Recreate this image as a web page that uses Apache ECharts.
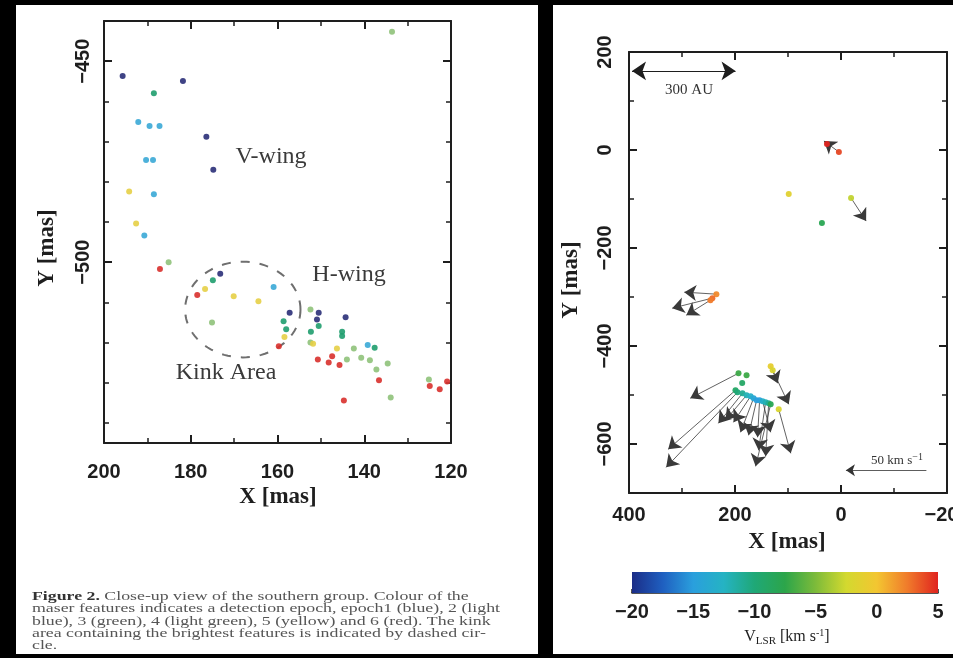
<!DOCTYPE html>
<html><head><meta charset="utf-8">
<script src="https://cdn.jsdelivr.net/npm/echarts@6/dist/echarts.min.js"></script>
<style>html,body{margin:0;padding:0;background:#000;}#c{width:953px;height:658px;}</style>
</head><body><div id="c"></div>
<script>
// ---------- Left panel: maser features by detection epoch (X, Y in mas) ----------
const epoch1 = [[195.7,-453.7],[181.8,-454.9],[176.4,-468.8],[174.8,-477.0],[173.2,-502.9],[157.2,-512.6],[150.5,-512.6],[144.3,-513.7],[150.9,-514.3]];
const epoch2 = [[192.1,-465.1],[189.5,-466.1],[187.2,-466.1],[190.3,-474.6],[188.7,-474.6],[188.5,-483.1],[190.7,-493.4],[160.9,-506.2],[139.2,-520.6]];
const epoch3 = [[188.5,-458.0],[174.9,-504.5],[158.6,-514.7],[158.0,-516.7],[150.5,-515.9],[152.3,-517.3],[145.1,-517.3],[145.1,-518.4],[137.6,-521.3]];
const epoch4 = [[185.1,-500.0],[133.6,-442.7],[152.4,-511.8],[152.4,-520.0],[142.4,-521.5],[144.0,-524.2],[140.7,-523.8],[138.7,-524.4],[137.2,-526.7],[134.6,-525.2],[125.1,-529.2],[175.1,-515.0],[133.9,-533.7]];
const epoch5 = [[194.2,-482.4],[192.6,-490.4],[176.7,-506.7],[170.1,-508.5],[164.4,-509.7],[158.4,-518.6],[146.3,-521.5],[151.8,-520.3]];
const epoch6 = [[187.1,-501.7],[178.5,-508.2],[159.7,-520.9],[150.7,-524.2],[147.4,-523.4],[148.2,-525.0],[145.7,-525.6],[136.6,-529.4],[144.7,-534.4],[124.9,-530.8],[122.6,-531.6],[120.9,-529.7]];
const epochNames = ['epoch 1','epoch 2','epoch 3','epoch 4','epoch 5','epoch 6'];
const kinkCircle = [168.0,-511.8,13.3,11.9]; // centre X, centre Y, radius X, radius Y (mas)
const leftXTicks = [120,200,20];
const leftYMajor = [-500,-450];
const leftYMinor = [-540,-530,-520,-510,-500,-490,-480,-470,-460,-450];

// ---------- Right panel: proper-motion vectors (X, Y in mas), VLSR in km/s ----------
const vecBase = [[4,-4],[-19,-98],[235.1,-294.2],[242.7,-302.3],[246.4,-306.4],
  [193.4,-455.6],[199.1,-490.3],[195.3,-494.4],[185.8,-496.4],[178.2,-500.5],[170.6,-502.6],[164.9,-506.6],
  [159.2,-510.7],[153.6,-510.7],[147.9,-512.8],[142.2,-514.8],[136.5,-516.9],[132.7,-518.9],[117.5,-529.1],
  [132.7,-441.3],[128.9,-449.4]];
const vecTip = [[32.2,18.4],[-47.4,-145],[295.7,-290.1],[318.5,-322.8],[291.9,-337.1],
  [284.4,-506.6],[326.1,-610.8],[329.9,-647.6],[231.3,-557.7],[218,-551.6],[202.8,-555.7],[189.6,-576.1],
  [174.4,-582.2],[157.4,-586.3],[132.7,-576.1],[155.5,-612.9],[142.2,-625.1],[161.1,-645.6],[94.8,-619],
  [119.4,-476],[98.6,-518.9]];
const vecVlsr = [4,-3,2,3,2.5,-7,-9,-10,-11,-12,-13,-14,-15,-15,-13,-12,-11,-8,-2,-1,-2];
const spotXY = [[26.5,12.3],[98.6,-89.9],[36,-149],[178.2,-459.7],[186.4,-475.4]];
const spotVlsr = [5,-1.5,-8,-7,-9];
const scaleAU = [[394.3,161.4],[199,161.4]];
const scaleVel = [[-161.1,-653.7],[-9.3,-653.7]];
const rightXTicks = [-200,400,200];
const rightYMajor = [-600,-400,-200,0,200];
const rightYRange = [-700,200,100];
const cbarRange = [-20,5,5];
const jet = ['#1b2d87','#1f5fc0','#2a9fdd','#25b3c3','#1fa877','#2ca54a','#7dbb3a','#d3d92f','#f3c631','#f07b2b','#e0241f'];
const epochColors = ['#2a2f78','#3aa9d6','#1f9d6e','#8fc27a','#e6cf46','#d8302c'];

const caption = [
  'Figure 2. Close-up view of the southern group. Colour of the',
  'maser features indicates a detection epoch, epoch1 (blue), 2 (light',
  'blue), 3 (green), 4 (light green), 5 (yellow) and 6 (red). The kink',
  'area containing the brightest features is indicated by dashed cir-',
  'cle.'
];

const minus = v => String(v).replace('-', '\u2212');
const numFont = {fontFamily:'Liberation Sans', fontSize:20, fontWeight:'bold', color:'#1e1e1e'};
const axLine = {show:true, onZero:false, lineStyle:{color:'#1e1e1e', width:2}};

function xAx(grid, range, pos, showLbl, margin){
  return {type:'value', gridIndex:grid, position:pos, min:range[0], max:range[1], interval:range[2], inverse:true,
    axisLine:axLine, splitLine:{show:false},
    axisTick:{show:true, inside:true, length:8, lineStyle:{color:'#1e1e1e', width:2}},
    minorTick:{show:true, splitNumber:2, length:5, lineStyle:{color:'#1e1e1e', width:1.5}},
    minorSplitLine:{show:false},
    axisLabel:Object.assign({show:showLbl, margin:margin, formatter:minus, showMinLabel:true, showMaxLabel:true, hideOverlap:false}, numFont)};
}
function yMajor(grid, mn, mx, vals, pos, showLbl, margin){
  return {type:'value', gridIndex:grid, position:pos, min:mn, max:mx,
    axisLine:axLine, splitLine:{show:false},
    axisTick:{show:true, inside:true, length:8, customValues:vals, lineStyle:{color:'#1e1e1e', width:2}},
    axisLabel:Object.assign({show:showLbl, rotate:90, margin:margin, customValues:vals, formatter:minus, showMinLabel:true, showMaxLabel:true}, numFont)};
}
function yMinor(grid, mn, mx, vals, pos){
  return {type:'value', gridIndex:grid, position:pos, min:mn, max:mx,
    axisLine:{show:false, onZero:false}, splitLine:{show:false},
    axisTick:{show:true, inside:true, length:5, customValues:vals, lineStyle:{color:'#1e1e1e', width:1.5}},
    axisLabel:{show:false}};
}
const rightYMinor = [];
for (let v = rightYRange[0]; v <= rightYRange[1]; v += rightYRange[2]) rightYMinor.push(v);

// caption width fitting
const capFont = 12;
const mctx = document.createElement('canvas').getContext('2d');
mctx.font = capFont + 'px "Liberation Serif"';
const capTarget = 468;
const mw = mctx.measureText(caption[1]).width;
const capScale = mw ? capTarget / mw : 1.3;

const graphics = [
  {type:'rect', z:-100, shape:{x:16, y:5, width:522, height:649}, style:{fill:'#fff'}},
  {type:'rect', z:-100, shape:{x:553, y:5, width:400, height:649}, style:{fill:'#fff'}},
  {type:'text', x:271, y:157, style:{text:'V-wing', font:'24px "Liberation Serif"', fill:'#3a3a3a', align:'center', verticalAlign:'middle'}},
  {type:'text', x:349, y:275, style:{text:'H-wing', font:'24px "Liberation Serif"', fill:'#3a3a3a', align:'center', verticalAlign:'middle'}},
  {type:'text', x:226, y:373, style:{text:'Kink Area', font:'24px "Liberation Serif"', fill:'#3a3a3a', align:'center', verticalAlign:'middle'}},
  {type:'text', x:278, y:497, style:{text:'X [mas]', font:'bold 23px "Liberation Serif"', fill:'#1e1e1e', align:'center', verticalAlign:'middle'}},
  {type:'text', x:47, y:248, rotation:Math.PI/2, style:{text:'Y [mas]', font:'bold 23px "Liberation Serif"', fill:'#1e1e1e', align:'center', verticalAlign:'middle'}},
  {type:'text', x:787, y:542, style:{text:'X [mas]', font:'bold 23px "Liberation Serif"', fill:'#1e1e1e', align:'center', verticalAlign:'middle'}},
  {type:'text', x:571, y:280, rotation:Math.PI/2, style:{text:'Y [mas]', font:'bold 23px "Liberation Serif"', fill:'#1e1e1e', align:'center', verticalAlign:'middle'}},
  {type:'text', x:689, y:90, style:{text:'300 AU', font:'15px "Liberation Serif"', fill:'#333', align:'center', verticalAlign:'middle'}},
  {type:'text', x:897, y:461, style:{text:'50 km s{s|\u22121}', rich:{s:{fontSize:10, verticalAlign:'top', padding:[0,0,8,0], fontFamily:'Liberation Serif', fill:'#333'}}, font:'13px "Liberation Serif"', fill:'#333', align:'center', verticalAlign:'middle'}},
  {type:'text', x:787, y:637, style:{text:'V{sub|LSR} [km s{sup|-1}]', font:'16px "Liberation Serif"', fill:'#1e1e1e', align:'center', verticalAlign:'middle',
     rich:{sub:{fontSize:11, fontFamily:'Liberation Serif', padding:[8,0,0,0]}, sup:{fontSize:10, fontFamily:'Liberation Serif', padding:[0,0,8,0]}}}}
];
caption.forEach((line, i) => {
  const isFirst = i === 0;
  graphics.push({type:'text', x:32, y:597 + i*12.3, scaleX: capScale,
    style:{text: isFirst ? '{b|Figure 2.}' + line.slice(9) : line,
      font:capFont + 'px "Liberation Serif"', fill:'#555', verticalAlign:'middle', align:'left',
      rich:{b:{fontWeight:'bold', fontFamily:'Liberation Serif', fontSize:capFont, fill:'#333'}}}});
});

const epochs = [epoch1, epoch2, epoch3, epoch4, epoch5, epoch6];
const series = epochs.map((d, i) => ({type:'scatter', name:epochNames[i], xAxisIndex:0, yAxisIndex:0, data:d,
  symbol:'circle', symbolSize:6, itemStyle:{color:epochColors[i], opacity:0.9}, z:5}));

series.push({type:'custom', xAxisIndex:0, yAxisIndex:0, data:[kinkCircle], z:4,
  renderItem:(params, api) => {
    const c = api.coord([api.value(0), api.value(1)]);
    const s = api.size([api.value(2), api.value(3)]);
    const pts = [];
    for (let i = 0; i <= 96; i++) { const t = i/96*2*Math.PI; pts.push([c[0] + s[0]*Math.cos(t), c[1] + s[1]*Math.sin(t)]); }
    return {type:'polyline', shape:{points:pts}, style:{stroke:'#6f6f6f', lineWidth:2, lineDash:[9,10], fill:null}};
  }});

// right panel
const spots = vecBase.map((b, i) => [b[0], b[1], vecVlsr[i]]).concat(spotXY.map((p, i) => [p[0], p[1], spotVlsr[i]]));
series.push({type:'lines', coordinateSystem:'cartesian2d', xAxisIndex:2, yAxisIndex:4, z:3,
  data: vecBase.map((b, i) => ({coords:[b, vecTip[i]]})),
  symbol:['none','arrow'], symbolSize:12, lineStyle:{color:'#3a3a3a', width:0.8, opacity:1}, itemStyle:{color:'#111'}});
const rightScatterIndex = series.length;
series.push({type:'scatter', xAxisIndex:2, yAxisIndex:4, data:spots, symbolSize:6, z:6, itemStyle:{opacity:0.95}});
series.push({type:'lines', coordinateSystem:'cartesian2d', xAxisIndex:2, yAxisIndex:4, z:3,
  data:[{coords:scaleAU}], symbol:['arrow','arrow'], symbolSize:14, lineStyle:{color:'#1e1e1e', width:1.2, opacity:1}});
series.push({type:'lines', coordinateSystem:'cartesian2d', xAxisIndex:2, yAxisIndex:4, z:3,
  data:[{coords:scaleVel}], symbol:['none','arrow'], symbolSize:9, lineStyle:{color:'#333', width:0.8, opacity:1}});
// colour bar
series.push({type:'custom', xAxisIndex:4, yAxisIndex:6, data:[[cbarRange[0], cbarRange[1]]], z:2,
  renderItem:(params, api) => {
    const p0 = api.coord([api.value(0), 1]);
    const p1 = api.coord([api.value(1), 0]);
    return {type:'rect', shape:{x:p0[0], y:p0[1], width:p1[0]-p0[0], height:p1[1]-p0[1]},
      style:{fill:new echarts.graphic.LinearGradient(0,0,1,0, jet.map((c, i) => ({offset:i/(jet.length-1), color:c})))}};
  }});

const option = {
  backgroundColor:'#000',
  animation:false,
  grid:[
    {left:104, top:21, width:347, height:422, outerBoundsMode:'none', containLabel:false},
    {left:629, top:52, width:318, height:441, outerBoundsMode:'none', containLabel:false},
    {left:632, top:572, width:306, height:21, outerBoundsMode:'none', containLabel:false}
  ],
  xAxis:[
    xAx(0, leftXTicks, 'bottom', true, 19),
    xAx(0, leftXTicks, 'top', false, 8),
    xAx(1, rightXTicks, 'bottom', true, 12),
    xAx(1, rightXTicks, 'top', false, 8),
    {type:'value', gridIndex:2, min:cbarRange[0], max:cbarRange[1], interval:cbarRange[2],
      axisLine:{show:true, onZero:false, lineStyle:{color:'#1e1e1e', width:1.5}}, splitLine:{show:false},
      axisTick:{show:true, inside:true, length:4, lineStyle:{color:'#1e1e1e', width:1.5}},
      axisLabel:Object.assign({margin:9, formatter:minus, showMinLabel:true, showMaxLabel:true}, numFont)}
  ],
  yAxis:[
    yMajor(0, -545, -440, leftYMajor, 'left', true, 11),
    yMinor(0, -545, -440, leftYMinor, 'left'),
    yMajor(0, -545, -440, leftYMajor, 'right', false, 8),
    yMinor(0, -545, -440, leftYMinor, 'right'),
    yMajor(1, rightYRange[0], rightYRange[1], rightYMajor, 'left', true, 14),
    yMinor(1, rightYRange[0], rightYRange[1], rightYMinor, 'left'),
    {type:'value', gridIndex:2, min:0, max:1, show:false},
    yMajor(1, rightYRange[0], rightYRange[1], rightYMajor, 'right', false, 8),
    yMinor(1, rightYRange[0], rightYRange[1], rightYMinor, 'right')
  ],
  visualMap:[{type:'continuous', show:false, min:cbarRange[0], max:cbarRange[1], dimension:2, seriesIndex:rightScatterIndex, inRange:{color:jet}}],
  graphic:graphics,
  series:series
};
const chart = echarts.init(document.getElementById('c'), null, {renderer:'canvas'});
chart.setOption(option);
</script></body></html>
